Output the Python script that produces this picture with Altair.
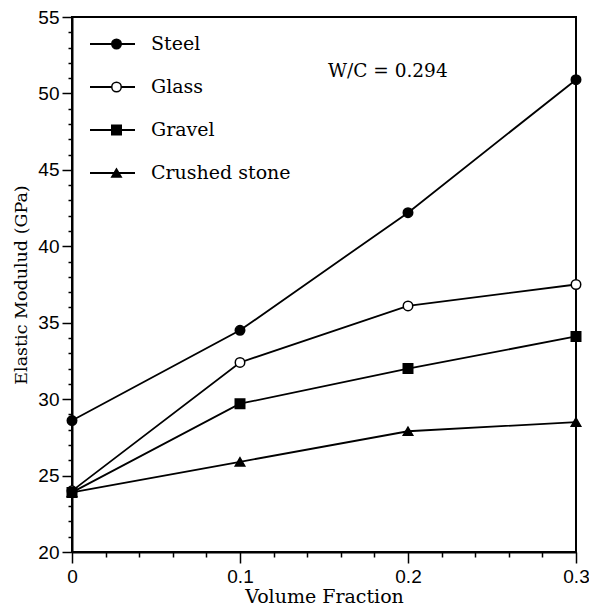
import altair as alt
import pandas as pd

x_vals = [0.0, 0.1, 0.2, 0.3]
series_names = ["Steel", "Glass", "Gravel", "Crushed stone"]
steel = [28.6, 34.5, 42.2, 50.9]
glass = [24.0, 32.4, 36.1, 37.5]
gravel = [23.9, 29.7, 32.0, 34.1]
crushed = [23.9, 25.9, 27.9, 28.5]
shapes = ["circle", "circle", "square", "triangle-up"]
fills = ["black", "white", "black", "black"]
y_ticks = list(range(20, 56))
x_ticks = [i / 50 for i in range(16)]
annotation = "W/C = 0.294"

rows = []
for name, vals in zip(series_names, [steel, glass, gravel, crushed]):
    for xv, yv in zip(x_vals, vals):
        rows.append({"vf": xv, "E": yv, "series": name, "line_series": name})
df = pd.DataFrame(rows)

SERIF = "DejaVu Serif"
SANS = "Liberation Sans"
X_MAJOR = "abs(datum.value*10 - round(datum.value*10)) < 0.000001"

x_enc = alt.X(
    "vf:Q",
    scale=alt.Scale(domain=[0, 0.3], nice=False, zero=False),
    axis=alt.Axis(
        title="Volume Fraction",
        values=x_ticks,
        tickCount=200,
        format=".1~f",
        labelExpr=X_MAJOR + " ? datum.label : ''",
        tickSize={"condition": {"test": X_MAJOR, "value": 11}, "value": 5},
        labelPadding=4,
        titleFontSize=19,
        titleBaseline="alphabetic",
        titleY=50,
        labelOverlap=False,
        labelFlush=False,
    ),
)
y_enc = alt.Y(
    "E:Q",
    scale=alt.Scale(domain=[20, 55], nice=False, zero=False),
    axis=alt.Axis(
        title="Elastic Modulud (GPa)",
        values=y_ticks,
        tickCount=200,
        format="d",
        labelExpr="datum.value % 5 === 0 ? datum.label : ''",
        tickSize={"condition": {"test": "datum.value % 5 === 0", "value": 10}, "value": 4},
        labelPadding=3,
        titleFontSize=17.5,
        titleBaseline="middle",
        titleX=-51,
        labelOverlap=False,
        labelFlush=False,
    ),
)

lines = alt.Chart(df).mark_line(strokeWidth=1.8).encode(
    x=x_enc,
    y=y_enc,
    color=alt.Color(
        "line_series:N",
        sort=series_names,
        scale=alt.Scale(range=["black"] * 4),
        legend=alt.Legend(
            orient="none", legendX=17, legendY=5.5, title=None,
            symbolType="stroke", symbolSize=2025, symbolStrokeWidth=1.8,
            clipHeight=43, rowPadding=0, labelOffset=15,
            labelFont=SERIF, labelFontSize=19, labelColor="black",
        ),
    ),
)

pt_legend = alt.Legend(
    orient="none", legendX=35, legendY=5.5, title=None,
    symbolSize=90, symbolStrokeWidth=1.5,
    clipHeight=43, rowPadding=0, labelOffset=15,
    labelFont=SERIF, labelFontSize=19, labelExpr="''",
)

points = alt.Chart(df).mark_point(filled=True, strokeWidth=1.5, opacity=1, size=90).encode(
    x=x_enc,
    y=y_enc,
    shape=alt.Shape("series:N", sort=series_names,
                    scale=alt.Scale(domain=series_names, range=shapes), legend=pt_legend),
    fill=alt.Fill("series:N", sort=series_names,
                  scale=alt.Scale(domain=series_names, range=fills), legend=pt_legend),
    stroke=alt.Stroke("series:N", sort=series_names,
                      scale=alt.Scale(domain=series_names, range=["black"] * 4), legend=pt_legend),
)

text = alt.Chart(pd.DataFrame({"t": [annotation]})).mark_text(
    font=SERIF, fontSize=18.5, color="black", align="center", baseline="middle"
).encode(x=alt.datum(0.188), y=alt.datum(51.5), text="t:N")

chart = alt.layer(lines, points, text).properties(
    width=504, height=535,
    autosize=alt.AutoSizeParams(type="none"),
    padding={"left": 64, "top": 9, "right": 13, "bottom": 54},
).configure_view(stroke="black", strokeWidth=2).configure_axis(
    grid=False, domainColor="black", domainWidth=2, tickColor="black", tickWidth=1.5,
    labelFont=SANS, labelFontSize=19, labelColor="black",
    titleFont=SERIF, titleFontWeight="normal", titleColor="black",
)

chart.save("out.html", embed_options={"renderer": "svg", "actions": False})
